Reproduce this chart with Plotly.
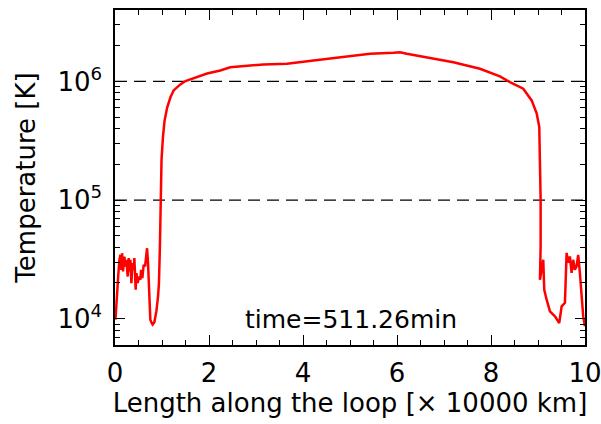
import plotly.graph_objects as go

# Loop coordinate (x 10000 km) and temperature (K)
length = [0.01, 0.03, 0.045, 0.07, 0.094, 0.115, 0.136, 0.151, 0.172, 0.200,
          0.221, 0.242, 0.270, 0.291, 0.312, 0.327, 0.349, 0.370, 0.397, 0.412,
          0.440, 0.455, 0.482, 0.512, 0.540, 0.555, 0.582, 0.610, 0.640, 0.661,
          0.682, 0.703, 0.716, 0.731, 0.752, 0.780, 0.801, 0.837, 0.880, 0.916,
          0.935, 0.955, 0.970, 0.990, 1.020, 1.055, 1.11, 1.18, 1.247, 1.39,
          1.50, 1.67, 1.96, 2.24, 2.453, 3.160, 3.658, 4.223, 4.933, 5.428,
          5.923, 6.066, 6.208, 6.703, 7.199, 7.765, 8.190, 8.404, 8.686, 8.865,
          8.971, 9.027, 9.041, 9.056, 9.056, 9.041, 9.112, 9.133, 9.184, 9.254,
          9.360, 9.452, 9.503, 9.573, 9.609, 9.643, 9.679, 9.715, 9.749, 9.785,
          9.821, 9.855, 9.891, 9.915, 9.962, 9.998]
temperature = [9820, 14450, 17540, 23440, 31330, 34510, 25820, 35650, 25000, 33420,
               27540, 31330, 22650, 32360, 25000, 31330, 19950, 29380, 25820, 32360,
               17540, 24210, 19950, 22650, 21280, 25820, 21980, 28440, 27540, 35650,
               39260, 29380, 21280, 13550, 9820, 9200, 8910, 9310, 11510, 15380,
               19950, 39810, 100000, 218800, 338800, 467700, 602600, 734500, 839500, 944100,
               1007000, 1059000, 1167000, 1236000, 1318000, 1390000, 1409000, 1500000, 1622000, 1710000,
               1742000, 1762000, 1710000, 1581000, 1452000, 1279000, 1102000, 986000, 869000, 691800,
               538300, 413000, 216800, 100000, 40550, 21280, 31330, 17540, 14450, 11510,
               10450, 9200, 12680, 13610, 35890, 29580, 33420, 24380, 31330, 25820,
               27540, 34510, 24380, 17540, 10450, 8610]

x_range = [0, 10]
ref_levels = [1e5, 1e6]
x_ticks = [0, 2, 4, 6, 8, 10]
y_ticks = [1e4, 1e5, 1e6]
y_ticktext = ["10<sup>4</sup>", "10<sup>5</sup>", "10<sup>6</sup>"]
label_time = "time=511.26min"

FONT = "DejaVu Sans"
FS = 26

fig = go.Figure()
for lvl in ref_levels:
    fig.add_trace(go.Scatter(x=x_range, y=[lvl, lvl], mode="lines",
                             line=dict(color="black", width=1.3, dash="12px,7px"),
                             hoverinfo="skip", showlegend=False))
fig.add_trace(go.Scatter(x=length, y=temperature, mode="lines",
                         line=dict(color="#ff0000", width=2.5),
                         showlegend=False))

fig.add_annotation(x=5.02, y=3.99, xref="x", yref="y", text=label_time,
                   showarrow=False, font=dict(family=FONT, size=25, color="black"))

axis_common = dict(showline=True, linecolor="black", linewidth=1.5, mirror="allticks",
                   ticks="inside", tickcolor="black", tickwidth=1.2, ticklen=10,
                   showgrid=False, zeroline=False, automargin=False,
                   ticklabeloverflow="allow",
                   tickfont=dict(family=FONT, size=FS, color="black"))

fig.update_xaxes(range=x_range, tickvals=x_ticks,
                 minor=dict(ticks="inside", dtick=0.5, ticklen=5, tickcolor="black", tickwidth=1.2),
                 title=dict(text="Length along the loop [\u00d7 10000 km]",
                            font=dict(family=FONT, size=FS, color="black"), standoff=2),
                 ticklabelstandoff=4,
                 **axis_common)
fig.update_yaxes(type="log", range=[3.778, 6.602], tickvals=y_ticks, ticktext=y_ticktext,
                 minor=dict(ticks="inside", dtick="D1", ticklen=5, tickcolor="black", tickwidth=1.2),
                 title=dict(text="Temperature [K]",
                            font=dict(family=FONT, size=FS, color="black"), standoff=14),
                 ticklabelstandoff=6,
                 **axis_common)

fig.update_layout(width=601, height=424, margin=dict(l=115, r=16, t=10, b=79),
                  plot_bgcolor="white", paper_bgcolor="white",
                  font=dict(family=FONT, color="black"))

fig.write_html("out.html")
